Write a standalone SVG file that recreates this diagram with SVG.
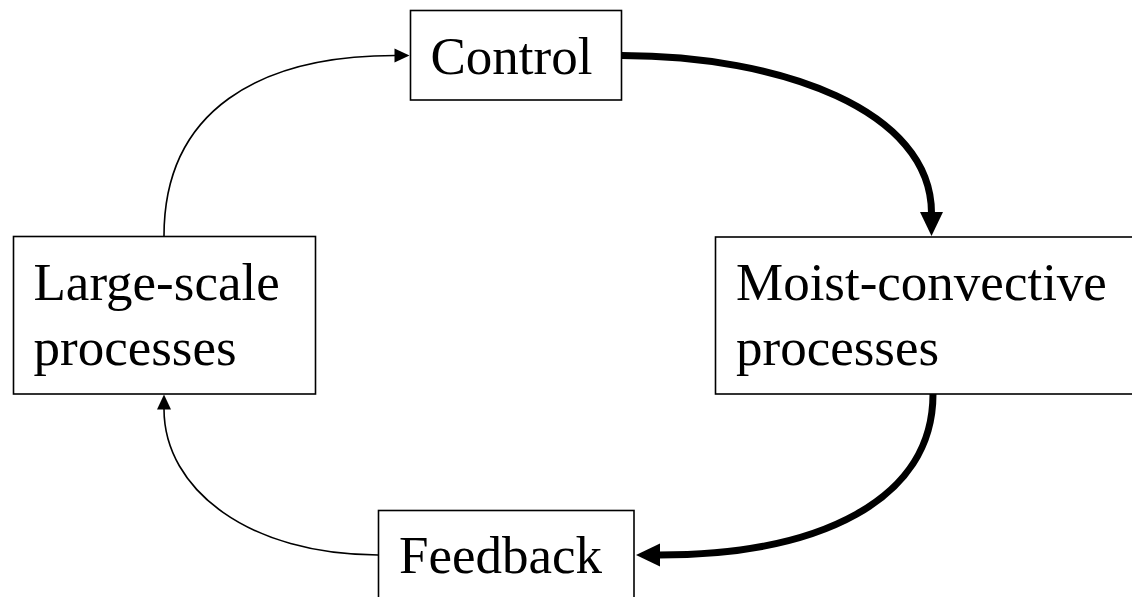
<svg xmlns="http://www.w3.org/2000/svg" width="1132" height="597" viewBox="0 0 1132 597">
<style>
.box{fill:#fff;stroke:#000;stroke-width:1.6}
.lbl{font-family:"Liberation Serif","Times New Roman",serif;font-size:53px;fill:#000}
.thin{fill:none;stroke:#000;stroke-width:1.6}
.thick{fill:none;stroke:#000;stroke-width:7}
</style>
<defs>
<marker id="ah" markerUnits="userSpaceOnUse" markerWidth="16" markerHeight="14" refX="0.5" refY="7" orient="auto" overflow="visible">
<path d="M0,0 L15,7 L0,14 z" fill="#000"/>
</marker>
<marker id="ahb" markerUnits="userSpaceOnUse" markerWidth="25" markerHeight="24" refX="1" refY="11.5" orient="auto" overflow="visible">
<path d="M0,0 L24,11.5 L0,23 z" fill="#000"/>
</marker>
</defs>
<rect width="1132" height="597" fill="#fff"/>
<g id="connectors">
<path class="thin" d="M164,236 C164,110 260,55.5 395,55.5" marker-end="url(#ah)"/>
<path class="thick" d="M622,55.5 C780,55.5 931.5,110 931.5,213" marker-end="url(#ahb)"/>
<path class="thick" d="M933,394 C933,500 820,555 659,555" marker-end="url(#ahb)"/>
<path class="thin" d="M378,555 C250,555 164,490 164,409" marker-end="url(#ah)"/>
</g>
<g id="control">
<rect class="box" x="410.5" y="10.5" width="211" height="89.5"/>
<text class="lbl" x="430.5" y="74">Control</text>
</g>
<g id="large-scale">
<rect class="box" x="13.5" y="236.5" width="302" height="157.5"/>
<text class="lbl" x="33.5" y="300">Large-scale</text>
<text class="lbl" x="33.5" y="365">processes</text>
</g>
<g id="moist-convective">
<rect class="box" x="715.5" y="237" width="430" height="157"/>
<text class="lbl" x="736" y="300">Moist-convective</text>
<text class="lbl" x="736" y="365">processes</text>
</g>
<g id="feedback">
<rect class="box" x="378.5" y="510.5" width="255.5" height="100"/>
<text class="lbl" x="399" y="573">Feedback</text>
</g>
</svg>
